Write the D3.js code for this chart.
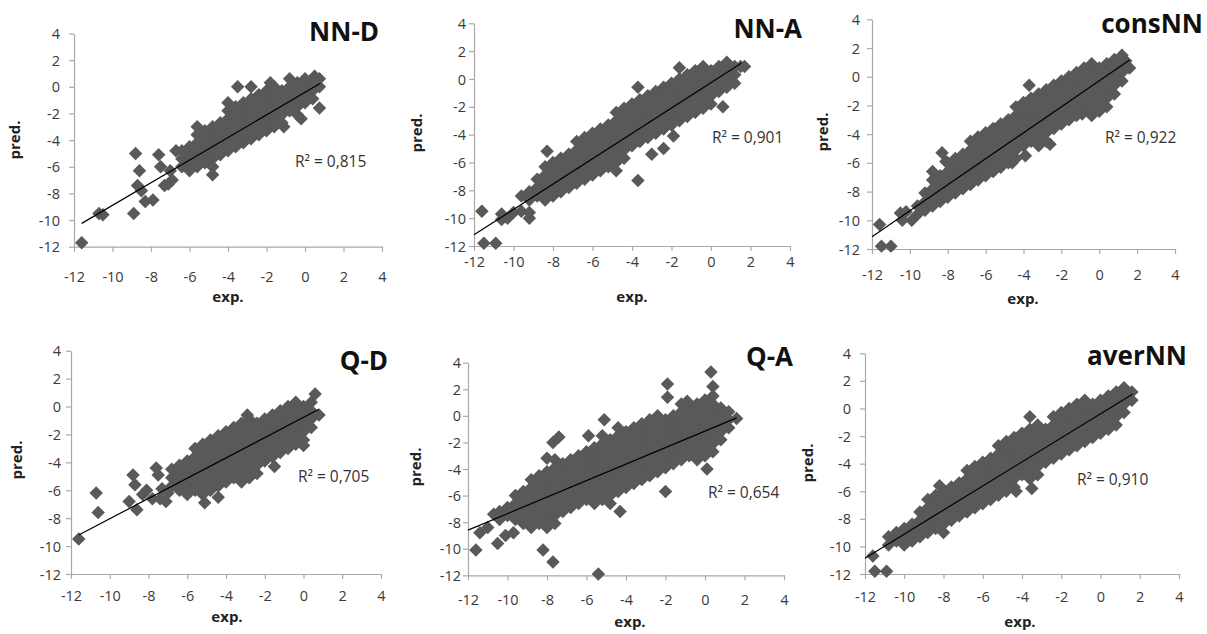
<!DOCTYPE html>
<html>
<head>
<meta charset="utf-8">
<script src="https://cdn.jsdelivr.net/npm/d3@7"></script>
<style>
  body { margin: 0; background: #fff; }
  text { font-family: "Open Sans", sans-serif; }
</style>
</head>
<body>
<script>
// Tick values shared by both axes of every panel
var ticks = [-12, -10, -8, -6, -4, -2, 0, 2, 4];

var titles = ["NN-D", "NN-A", "consNN", "Q-D", "Q-A", "averNN"];
var r2Labels = ["R\u00b2 = 0,815", "R\u00b2 = 0,901", "R\u00b2 = 0,922",
                "R\u00b2 = 0,705", "R\u00b2 = 0,654", "R\u00b2 = 0,910"];

// Linear trend lines, start and end point [exp, pred]
var trendNND = [[-11.6, -10.25], [0.8, 0.26]];
var trendNNA = [[-12, -11.2], [1.55, 1.15]];
var trendCons = [[-12, -11.15], [1.6, 1.17]];
var trendQD = [[-11.6, -9.2], [0.8, -0.2]];
var trendQA = [[-12, -8.6], [1.6, -0.15]];
var trendAver = [[-12, -10.85], [1.65, 1.05]];

// Points: each row is [exp, pred, pred, ...]
var ptsNND = [
  [-11.6, -11.7], [-10.7, -9.5], [-10.5, -9.6], [-8.9, -9.5], [-8.8, -5.0],
  [-8.7, -7.4], [-8.6, -6.3], [-8.5, -7.8], [-8.3, -8.6], [-7.9, -8.5],
  [-7.6, -5.1], [-7.5, -6.0], [-7.3, -7.4], [-7.1, -7.3], [-7.0, -6.3],
  [-6.9, -7.0], [-6.7, -4.8], [-3.5, 0.0], [-2.8, 0.0], [-1.8, 0.3],
  [-1.1, -3.0], [-0.2, -2.4], [0.5, 0.8],
  [-6.4, -4.8, -5.4, -6.0],
  [-6.0, -4.5, -5.1, -5.7, -6.3],
  [-5.6, -3.0, -3.6, -4.2, -4.8, -5.4, -6.0],
  [-5.2, -3.3, -3.9, -4.5, -5.1, -5.7],
  [-4.8, -3.0, -3.6, -4.2, -4.8, -5.4, -6.0, -6.6],
  [-4.4, -2.7, -3.3, -3.9, -4.5, -5.1],
  [-4.0, -1.2, -1.8, -2.4, -3.0, -3.6, -4.2, -4.8],
  [-3.6, -1.5, -2.1, -2.7, -3.3, -3.9, -4.5],
  [-3.2, -1.2, -1.8, -2.4, -3.0, -3.6, -4.2],
  [-2.8, -0.9, -1.5, -2.1, -2.7, -3.3, -3.9],
  [-2.4, -0.6, -1.2, -1.8, -2.4, -3.0, -3.6],
  [-2.0, -0.3, -0.9, -1.5, -2.1, -2.7, -3.3],
  [-1.6, 0.0, -0.6, -1.2, -1.8, -2.4, -3.0],
  [-1.2, -0.3, -0.9, -1.5, -2.1, -2.7],
  [-0.8, 0.6, 0.0, -0.6, -1.2, -1.8],
  [-0.4, 0.3, -0.3, -0.9, -1.5, -2.1],
  [0.0, 0.6, 0.0, -0.6, -1.2],
  [0.4, 0.3, -0.3, -0.9],
  [0.75, 0.6, 0.0, -1.6]
];

var ptsNNA = [
  [-11.6, -9.5], [-11.5, -11.8], [-10.9, -11.8], [-10.6, -9.7, -10.1],
  [-10.3, -10.0], [-10.0, -9.6], [-9.6, -8.4, -9.5], [-9.2, -9.6, -10.0],
  [-8.3, -5.2], [-3.7, -0.6, -7.3], [-3.0, -5.4], [-2.4, -5.0], [-1.9, -4.1],
  [-1.6, 0.8], [0.6, -2.0], [1.7, 0.9],
  [-9.2, -8.1, -8.7],
  [-8.8, -7.2, -7.8, -8.4],
  [-8.4, -6.3, -6.9, -7.5, -8.1, -8.7],
  [-8.0, -6.0, -6.6, -7.2, -7.8, -8.4],
  [-7.6, -5.7, -6.3, -6.9, -7.5, -8.1],
  [-7.2, -5.4, -6.0, -6.6, -7.2, -7.8],
  [-6.8, -4.5, -5.1, -5.7, -6.3, -6.9, -7.5],
  [-6.4, -4.2, -4.8, -5.4, -6.0, -6.6, -7.2],
  [-6.0, -3.9, -4.5, -5.1, -5.7, -6.3, -6.9],
  [-5.6, -3.6, -4.2, -4.8, -5.4, -6.0, -6.6],
  [-5.2, -3.3, -3.9, -4.5, -5.1, -5.7, -6.3],
  [-4.8, -2.4, -3.0, -3.6, -4.2, -4.8, -5.4, -6.0, -6.6],
  [-4.4, -2.1, -2.7, -3.3, -3.9, -4.5, -5.1, -5.7],
  [-4.0, -1.8, -2.4, -3.0, -3.6, -4.2, -4.8],
  [-3.6, -1.5, -2.1, -2.7, -3.3, -3.9, -4.5],
  [-3.2, -1.2, -1.8, -2.4, -3.0, -3.6, -4.2],
  [-2.8, -0.9, -1.5, -2.1, -2.7, -3.3, -3.9],
  [-2.4, -0.6, -1.2, -1.8, -2.4, -3.0, -3.6],
  [-2.0, -0.3, -0.9, -1.5, -2.1, -2.7, -3.3],
  [-1.6, 0.0, -0.6, -1.2, -1.8, -2.4, -3.0],
  [-1.2, 0.3, -0.3, -0.9, -1.5, -2.1, -2.7],
  [-0.8, 0.6, 0.0, -0.6, -1.2, -1.8, -2.4],
  [-0.4, 0.9, 0.3, -0.3, -0.9, -1.5, -2.1],
  [0.0, 0.6, 0.0, -0.6, -1.2, -1.8],
  [0.4, 0.9, 0.3, -0.3, -0.9],
  [0.8, 1.2, 0.6, 0.0, -0.6],
  [1.2, 0.9, 0.3, -0.3],
  [1.5, 0.9]
];

var ptsCons = [
  [-11.6, -10.3], [-11.5, -11.8], [-11.0, -11.8], [-10.5, -9.5], [-10.4, -10.0],
  [-10.2, -9.4], [-9.9, -10.0], [-8.3, -5.3], [-8.1, -5.9],
  [-3.7, -0.6], [-2.6, -4.7], [-4.6, -6.0], [-3.9, -5.5], [-0.9, -2.6], [1.4, 1.1],
  [-9.6, -9.0, -9.6],
  [-9.2, -8.1, -8.7, -9.3],
  [-8.8, -6.6, -7.2, -7.8, -8.4, -9.0],
  [-8.4, -6.9, -7.5, -8.1, -8.7],
  [-8.0, -6.0, -6.6, -7.2, -7.8, -8.4],
  [-7.6, -5.7, -6.3, -6.9, -7.5, -8.1],
  [-7.2, -5.4, -6.0, -6.6, -7.2, -7.8],
  [-6.8, -4.5, -5.1, -5.7, -6.3, -6.9, -7.5],
  [-6.4, -4.2, -4.8, -5.4, -6.0, -6.6, -7.2],
  [-6.0, -3.9, -4.5, -5.1, -5.7, -6.3, -6.9],
  [-5.6, -3.6, -4.2, -4.8, -5.4, -6.0, -6.6],
  [-5.2, -3.3, -3.9, -4.5, -5.1, -5.7, -6.3],
  [-4.8, -3.0, -3.6, -4.2, -4.8, -5.4, -6.0],
  [-4.4, -2.1, -2.7, -3.3, -3.9, -4.5, -5.1, -5.7],
  [-4.0, -1.8, -2.4, -3.0, -3.6, -4.2, -4.8],
  [-3.6, -1.5, -2.1, -2.7, -3.3, -3.9, -4.5],
  [-3.2, -1.2, -1.8, -2.4, -3.0, -3.6, -4.2, -4.8],
  [-2.8, -0.9, -1.5, -2.1, -2.7, -3.3, -3.9, -4.5],
  [-2.4, -0.6, -1.2, -1.8, -2.4, -3.0, -3.6],
  [-2.0, -0.3, -0.9, -1.5, -2.1, -2.7, -3.3],
  [-1.6, 0.0, -0.6, -1.2, -1.8, -2.4, -3.0],
  [-1.2, 0.3, -0.3, -0.9, -1.5, -2.1, -2.7],
  [-0.8, 0.6, 0.0, -0.6, -1.2, -1.8, -2.4],
  [-0.4, 0.9, 0.3, -0.3, -0.9, -1.5, -2.1, -2.7],
  [0.0, 0.6, 0.0, -0.6, -1.2, -1.8, -2.4],
  [0.4, 0.9, 0.3, -0.3, -0.9, -1.5, -2.1],
  [0.8, 1.2, 0.6, 0.0, -0.6, -1.2],
  [1.2, 1.5, 0.9, 0.3, -0.3],
  [1.6, 0.6]
];

var ptsQD = [
  [-11.6, -9.5], [-10.7, -6.2], [-10.6, -7.6], [-9.0, -6.8], [-8.8, -4.9],
  [-8.7, -5.6], [-8.6, -7.4], [-8.3, -6.3], [-8.1, -6.0], [-7.8, -6.6],
  [-7.6, -4.4], [-7.5, -4.9], [-7.4, -6.6], [-7.3, -5.9], [-7.1, -6.8],
  [-7.0, -6.2], [-5.1, -6.9], [-4.4, -6.5], [-2.9, -0.6], [-1.5, -4.3],
  [0.0, -2.8], [0.6, 0.9], [0.8, -0.6],
  [-6.8, -4.5, -5.1, -5.7],
  [-6.4, -4.2, -4.8, -5.4, -6.0],
  [-6.0, -3.9, -4.5, -5.1, -5.7, -6.3],
  [-5.6, -3.0, -3.6, -4.2, -4.8, -5.4, -6.0],
  [-5.2, -2.7, -3.3, -3.9, -4.5, -5.1, -5.7, -6.3],
  [-4.8, -2.4, -3.0, -3.6, -4.2, -4.8, -5.4, -6.0],
  [-4.4, -2.1, -2.7, -3.3, -3.9, -4.5, -5.1, -5.7],
  [-4.0, -1.8, -2.4, -3.0, -3.6, -4.2, -4.8, -5.4],
  [-3.6, -1.5, -2.1, -2.7, -3.3, -3.9, -4.5, -5.1],
  [-3.2, -1.2, -1.8, -2.4, -3.0, -3.6, -4.2, -4.8, -5.4],
  [-2.8, -0.9, -1.5, -2.1, -2.7, -3.3, -3.9, -4.5, -5.1],
  [-2.4, -1.2, -1.8, -2.4, -3.0, -3.6, -4.2, -4.8],
  [-2.0, -0.9, -1.5, -2.1, -2.7, -3.3, -3.9],
  [-1.6, -0.6, -1.2, -1.8, -2.4, -3.0, -3.6],
  [-1.2, -0.3, -0.9, -1.5, -2.1, -2.7, -3.3],
  [-0.8, 0.0, -0.6, -1.2, -1.8, -2.4, -3.0],
  [-0.4, 0.3, -0.3, -0.9, -1.5, -2.1, -2.7],
  [0.0, 0.0, -0.6, -1.2, -1.8, -2.4],
  [0.4, 0.3, -0.3, -0.9, -1.5]
];

var ptsQA = [
  [-11.6, -10.1], [-11.4, -8.8], [-11.0, -8.4], [-10.7, -7.4], [-10.5, -9.6],
  [-10.1, -9.0], [-9.7, -8.8], [-8.2, -10.1], [-7.7, -11.0, -2.0], [-5.4, -11.9],
  [-7.4, -1.6], [-8.0, -3.2], [-5.9, -1.5], [-5.1, -0.3], [-4.3, -7.2],
  [-2.0, -5.7], [-1.9, 2.4, 1.4], [-0.9, 1.1], [0.3, 3.3], [0.4, 2.2], [0.1, -4.0],
  [1.6, -0.2],
  [-10.4, -7.2, -7.8],
  [-10.0, -6.9, -7.5],
  [-9.6, -6.0, -6.6, -7.2, -7.8],
  [-9.2, -5.7, -6.3, -6.9, -7.5, -8.1],
  [-8.8, -4.8, -5.4, -6.0, -6.6, -7.2, -7.8, -8.4],
  [-8.4, -4.5, -5.1, -5.7, -6.3, -6.9, -7.5, -8.1],
  [-8.0, -4.2, -4.8, -5.4, -6.0, -6.6, -7.2, -7.8, -8.4],
  [-7.6, -3.3, -3.9, -4.5, -5.1, -5.7, -6.3, -6.9, -7.5, -8.1],
  [-7.2, -3.6, -4.2, -4.8, -5.4, -6.0, -6.6, -7.2],
  [-6.8, -3.3, -3.9, -4.5, -5.1, -5.7, -6.3, -6.9],
  [-6.4, -3.0, -3.6, -4.2, -4.8, -5.4, -6.0, -6.6],
  [-6.0, -2.7, -3.3, -3.9, -4.5, -5.1, -5.7, -6.3],
  [-5.6, -2.4, -3.0, -3.6, -4.2, -4.8, -5.4, -6.0, -6.6],
  [-5.2, -1.5, -2.1, -2.7, -3.3, -3.9, -4.5, -5.1, -5.7, -6.3],
  [-4.8, -1.8, -2.4, -3.0, -3.6, -4.2, -4.8, -5.4, -6.0, -6.6],
  [-4.4, -0.9, -1.5, -2.1, -2.7, -3.3, -3.9, -4.5, -5.1, -5.7],
  [-4.0, -1.2, -1.8, -2.4, -3.0, -3.6, -4.2, -4.8, -5.4],
  [-3.6, -0.9, -1.5, -2.1, -2.7, -3.3, -3.9, -4.5, -5.1],
  [-3.2, -0.6, -1.2, -1.8, -2.4, -3.0, -3.6, -4.2, -4.8],
  [-2.8, -0.3, -0.9, -1.5, -2.1, -2.7, -3.3, -3.9, -4.5],
  [-2.4, 0.0, -0.6, -1.2, -1.8, -2.4, -3.0, -3.6, -4.2],
  [-2.0, -0.3, -0.9, -1.5, -2.1, -2.7, -3.3, -3.9],
  [-1.6, 0.0, -0.6, -1.2, -1.8, -2.4, -3.0, -3.6],
  [-1.2, 0.9, 0.3, -0.3, -0.9, -1.5, -2.1, -2.7, -3.3],
  [-0.8, 0.6, 0.0, -0.6, -1.2, -1.8, -2.4, -3.0],
  [-0.4, 0.9, 0.3, -0.3, -0.9, -1.5, -2.1, -2.7, -3.3],
  [0.0, 1.2, 0.6, 0.0, -0.6, -1.2, -1.8, -2.4, -3.0],
  [0.4, 1.5, 0.9, 0.3, -0.3, -0.9, -1.5, -2.1, -2.7],
  [0.8, 0.6, 0.0, -0.6, -1.2, -1.8],
  [1.2, 0.3, -0.3, -0.9]
];

var ptsAver = [
  [-11.6, -10.7], [-11.5, -11.8], [-10.9, -11.8], [-8.2, -5.6], [-3.6, -0.6],
  [-3.5, -5.8], [-4.3, -6.0],
  [-10.8, -9.3, -9.9],
  [-10.4, -9.0, -9.6],
  [-10.0, -8.7, -9.3, -9.9],
  [-9.6, -8.4, -9.0, -9.6],
  [-9.2, -7.5, -8.1, -8.7, -9.3],
  [-8.8, -6.6, -7.2, -7.8, -8.4, -9.0],
  [-8.4, -6.3, -6.9, -7.5, -8.1, -8.7],
  [-8.0, -6.0, -6.6, -7.2, -7.8, -8.4, -9.0],
  [-7.6, -5.7, -6.3, -6.9, -7.5, -8.1],
  [-7.2, -5.4, -6.0, -6.6, -7.2, -7.8],
  [-6.8, -4.5, -5.1, -5.7, -6.3, -6.9, -7.5],
  [-6.4, -4.2, -4.8, -5.4, -6.0, -6.6, -7.2],
  [-6.0, -3.9, -4.5, -5.1, -5.7, -6.3, -6.9],
  [-5.6, -3.6, -4.2, -4.8, -5.4, -6.0, -6.6],
  [-5.2, -2.7, -3.3, -3.9, -4.5, -5.1, -5.7, -6.3],
  [-4.8, -2.4, -3.0, -3.6, -4.2, -4.8, -5.4, -6.0],
  [-4.4, -2.1, -2.7, -3.3, -3.9, -4.5, -5.1, -5.7],
  [-4.0, -1.8, -2.4, -3.0, -3.6, -4.2, -4.8],
  [-3.6, -1.5, -2.1, -2.7, -3.3, -3.9, -4.5, -5.1],
  [-3.2, -1.2, -1.8, -2.4, -3.0, -3.6, -4.2, -4.8],
  [-2.8, -1.5, -2.1, -2.7, -3.3, -3.9],
  [-2.4, -0.6, -1.2, -1.8, -2.4, -3.0, -3.6],
  [-2.0, -0.3, -0.9, -1.5, -2.1, -2.7, -3.3],
  [-1.6, 0.0, -0.6, -1.2, -1.8, -2.4, -3.0],
  [-1.2, 0.3, -0.3, -0.9, -1.5, -2.1, -2.7],
  [-0.8, 0.6, 0.0, -0.6, -1.2, -1.8, -2.4],
  [-0.4, 0.3, -0.3, -0.9, -1.5, -2.1],
  [0.0, 0.6, 0.0, -0.6, -1.2, -1.8],
  [0.4, 0.9, 0.3, -0.3, -0.9, -1.5],
  [0.8, 1.2, 0.6, 0.0, -0.6, -1.2],
  [1.2, 1.5, 0.9, 0.3, -0.3],
  [1.6, 1.2, 0.6]
];

// Panel placement on the page (pixels)
var panels = [
  {pts: ptsNND, trend: trendNND, x0: 74, x1: 382, yT: 33.5, yB: 246.7, titleX: 379, titleY: 40.5,
   r2X: 295, r2Y: 167, yLabX: 60, xLabY: 277, predX: 15, predY: 140, expX: 228, expY: 302},
  {pts: ptsNNA, trend: trendNNA, x0: 474, x1: 790, yT: 23.3, yB: 246, titleX: 802, titleY: 38,
   r2X: 712, r2Y: 143, yLabX: 466, xLabY: 262, predX: 417, predY: 133, expX: 632, expY: 302},
  {pts: ptsCons, trend: trendCons, x0: 872, x1: 1175, yT: 19.3, yB: 249, titleX: 1203, titleY: 33,
   r2X: 1105, r2Y: 143, yLabX: 860, xLabY: 275, predX: 823, predY: 132, expX: 1023, expY: 304},
  {pts: ptsQD, trend: trendQD, x0: 71, x1: 381, yT: 350.7, yB: 574, titleX: 388, titleY: 370,
   r2X: 298, r2Y: 482, yLabX: 61, xLabY: 596, predX: 17, predY: 460, expX: 227, expY: 622},
  {pts: ptsQA, trend: trendQA, x0: 468, x1: 784, yT: 362.7, yB: 575.3, titleX: 793, titleY: 366,
   r2X: 708, r2Y: 498, yLabX: 461, xLabY: 600, predX: 416, predY: 467, expX: 630, expY: 627},
  {pts: ptsAver, trend: trendAver, x0: 865, x1: 1179, yT: 353.3, yB: 574, titleX: 1187, titleY: 365,
   r2X: 1077, r2Y: 485, yLabX: 851, xLabY: 597, predX: 808, predY: 463, expX: 1020, expY: 627}
];

var svg = d3.select("body")
  .append("svg")
  .attr("width", 1207)
  .attr("height", 634);

// Excel style diamond: a square turned by 45 degrees
var diamond = d3.symbol().type(d3.symbolSquare).size(91);

panels.forEach(function(p, i) {
  var xScale = d3.scaleLinear().domain([-12, 4]).range([p.x0, p.x1]);
  var yScale = d3.scaleLinear().domain([-12, 4]).range([p.yB, p.yT]);
  var g = svg.append("g");

  // axes
  var xAxis = d3.axisBottom(xScale).tickValues(ticks).tickSize(5).tickSizeOuter(0)
    .tickFormat(function(d) { return String(d); });
  var gx = g.append("g")
    .attr("transform", `translate(0, ${p.yB})`)
    .call(xAxis);
  gx.selectAll(".tick text")
    .attr("y", p.xLabY - p.yB)
    .attr("dy", "0.35em");

  var yAxis = d3.axisLeft(yScale).tickValues(ticks).tickSize(5).tickSizeOuter(0)
    .tickFormat(function(d) { return String(d); });
  var gy = g.append("g")
    .attr("transform", `translate(${p.x0}, 0)`)
    .call(yAxis);
  gy.selectAll(".tick text")
    .attr("x", p.yLabX - p.x0)
    .attr("dy", "0.35em");

  g.selectAll(".domain, .tick line").attr("stroke", "#a9a9a9").attr("stroke-width", 1.2);
  g.selectAll(".tick text")
    .attr("fill", "#3a3a3a")
    .style("font-family", "'Open Sans', sans-serif")
    .style("font-size", "14.5px");

  // points
  var pts = [];
  p.pts.forEach(function(row) {
    row.slice(1).forEach(function(v) { pts.push([row[0], v]); });
  });
  g.append("g").selectAll("path")
    .data(pts)
    .enter()
    .append("path")
    .attr("d", diamond)
    .attr("fill", "#595959")
    .attr("transform", d => `translate(${xScale(d[0])}, ${yScale(d[1])}) rotate(45)`);

  // trend line
  g.append("line")
    .attr("x1", xScale(p.trend[0][0]))
    .attr("y1", yScale(p.trend[0][1]))
    .attr("x2", xScale(p.trend[1][0]))
    .attr("y2", yScale(p.trend[1][1]))
    .attr("stroke", "#000")
    .attr("stroke-width", 1.2);

  // labels
  g.append("text")
    .attr("x", p.titleX).attr("y", p.titleY)
    .attr("text-anchor", "end")
    .style("font-size", "26px").style("font-weight", "bold")
    .attr("fill", "#111")
    .text(titles[i]);

  g.append("text")
    .attr("x", p.r2X).attr("y", p.r2Y)
    .style("font-size", "15.5px")
    .attr("fill", "#333")
    .text(r2Labels[i]);

  g.append("text")
    .attr("x", p.expX).attr("y", p.expY)
    .attr("text-anchor", "middle")
    .style("font-size", "15px").style("font-weight", "bold")
    .attr("fill", "#222")
    .text("exp.");

  g.append("text")
    .attr("transform", `translate(${p.predX}, ${p.predY}) rotate(-90)`)
    .attr("text-anchor", "middle")
    .attr("dy", "0.35em")
    .style("font-size", "15px").style("font-weight", "bold")
    .attr("fill", "#222")
    .text("pred.");
});
</script>
</body>
</html>
